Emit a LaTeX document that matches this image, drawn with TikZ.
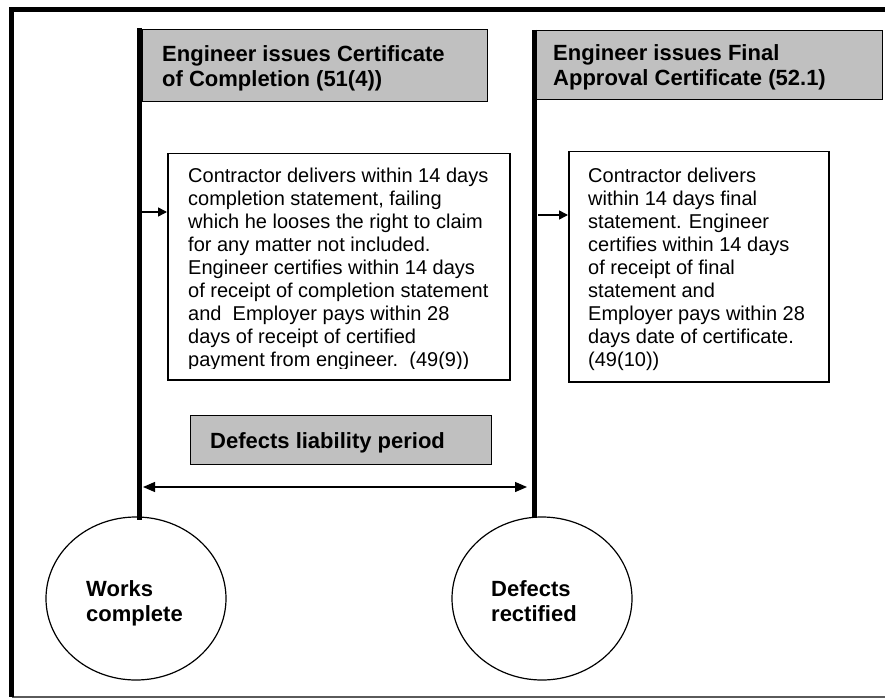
\documentclass[tikz,border=0pt]{standalone}
\usepackage{fontspec}
\setmainfont{Liberation Sans}
\usetikzlibrary{shapes.geometric,arrows.meta,calc}
\definecolor{boxgray}{HTML}{C0C0C0}
\definecolor{framegray}{HTML}{5A5A5A}
\tikzset{
  graybox/.style={draw=black, line width=1.3pt, fill=boxgray, inner sep=0pt, anchor=north west},
  textbox/.style={draw=black, line width=1.5pt, fill=white, inner sep=0pt, anchor=north west},
  bodytext/.style={inner sep=0pt, anchor=north west, align=left, font=\fontsize{20}{23}\selectfont},
  headtext/.style={inner sep=0pt, anchor=north west, align=left, font=\bfseries\fontsize{22}{25}\selectfont},
  headline/.style={inner sep=0pt, anchor=base west, font=\bfseries\fontsize{22}{25}\selectfont},
  event/.style={ellipse, draw=black, line width=1.2pt, inner sep=0pt},
  timeline/.style={line width=4.5pt},
  smallarr/.style={line width=1.5pt, -{Triangle[length=9pt,width=9pt]}},
  spanarr/.style={line width=1.3pt, {Triangle[length=12pt,width=10pt]}-{Triangle[length=12pt,width=10pt]}},
}
\begin{document}
\begin{tikzpicture}[x=1pt,y=-1pt]
\fill[white] (0,0) rectangle (885,700);
\useasboundingbox (0,0) rectangle (885,700);

% outer frame
\coordinate (ftl) at (11.5,10);
\coordinate (ftr) at (892,10);
\coordinate (fbl) at (11.5,697);
\coordinate (fbr) at (892,697);
\draw[framegray, line width=2pt] (fbl) -- (fbr);
\draw[line width=5pt, line join=miter] (ftr) -- (ftl) -- (fbl);

% gray header boxes
\node[graybox, minimum width=345pt, minimum height=72pt] (lgray) at (142,29) {};
\node[graybox, minimum width=350pt, minimum height=69pt] (rgray) at (532,30) {};
\node[headtext] (lgraytxt) at (162,45) {Engineer issues Certificate\\of Completion (51(4))};
\begin{scope}
  \clip (532,30) rectangle (882,91);
  \node[headtext] (rgraytxt) at (553,44) {Engineer issues Final\\Approval Certificate (52.1)};
\end{scope}

% text boxes
\node[textbox, minimum width=342pt, minimum height=226pt] (lbox) at (167,153) {};
\node[textbox, minimum width=260pt, minimum height=230pt] (rbox) at (568,151) {};
\begin{scope}
  \clip (167,153) rectangle (509,368);
  \node[bodytext] (lboxtxt) at (188,168) {Contractor delivers within 14 days\\
completion statement, failing\\
which he looses the right to claim\\
for any matter not included.\\
Engineer certifies within 14 days\\
of receipt of completion statement\\
and\ \ Employer pays within 28\\
days of receipt of certified\\
payment from engineer.\ \ (49(9))};
\end{scope}
\node[bodytext] (rboxtxt) at (588,168) {Contractor delivers\\
within 14 days final\\
statement. Engineer\\
certifies within 14 days\\
of receipt of final\\
statement and\\
Employer pays within 28\\
days date of certificate.\\
(49(10))};

% defects liability period
\node[graybox, minimum width=301pt, minimum height=49pt] (dlp) at (190,415) {};
\node[headline] (dlptxt) at (210,448) {Defects liability period};

% events
\node[event, minimum width=180pt, minimum height=163pt] (works) at (136,598.5) {};
\node[event, minimum width=180pt, minimum height=163pt] (defects) at (542,598.5) {};
\node[headtext] (workstxt) at (86,580) {Works\\complete};
\node[headtext] (defectstxt) at (491,580) {Defects\\rectified};

% timelines
\coordinate (ltop) at (139.5,28);
\coordinate (lbot) at (139.5,520);
\coordinate (rtop) at (534.5,30);
\coordinate (rbot) at (534.5,517);
\draw[timeline] (ltop) -- (lbot);
\draw[timeline] (rtop) -- (rbot);

% arrows into text boxes
\coordinate (la) at (142,212);
\draw[smallarr] (la) -- (la -| lbox.west);
\coordinate (ra) at (538,215);
\draw[smallarr] (ra) -- (ra -| rbox.west);

% defects liability span
\coordinate (da1) at (143,487);
\coordinate (da2) at (527,487);
\draw[spanarr] (da1) -- (da2);
\end{tikzpicture}
\end{document}
